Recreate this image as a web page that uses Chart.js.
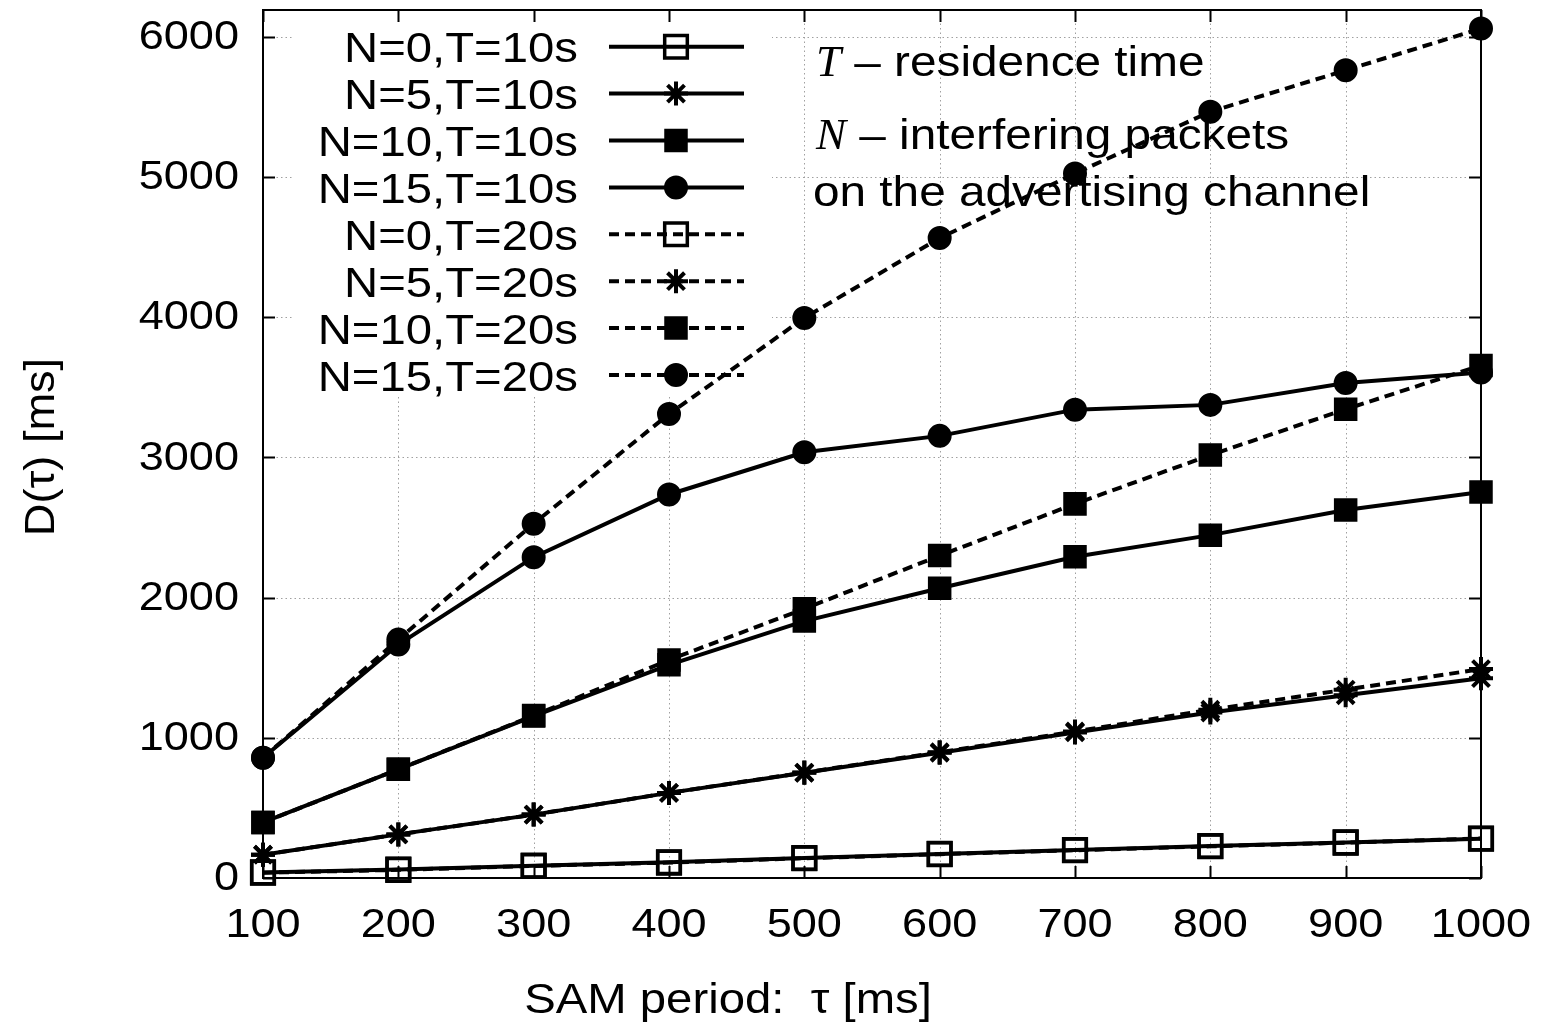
<!DOCTYPE html>
<html>
<head>
<meta charset="utf-8">
<script src="https://cdn.jsdelivr.net/npm/chart.js@4.4.1/dist/chart.umd.min.js"></script>
<style>
  html, body { margin: 0; padding: 0; background: #ffffff; }
  canvas { display: block; }
</style>
</head>
<body>
<canvas id="c" width="1553" height="1025"></canvas>
<script>
// ---------- data ----------
const tauValues = [100, 200, 300, 400, 500, 600, 700, 800, 900, 1000];
const xTickLabels = ['100', '200', '300', '400', '500', '600', '700', '800', '900', '1000'];
const yTickValues = [0, 1000, 2000, 3000, 4000, 5000, 6000];
const yTickLabels = ['0', '1000', '2000', '3000', '4000', '5000', '6000'];

const seriesLabels = ['N=0,T=10s', 'N=5,T=10s', 'N=10,T=10s', 'N=15,T=10s',
                      'N=0,T=20s', 'N=5,T=20s', 'N=10,T=20s', 'N=15,T=20s'];

const n0T10  = [40, 60, 88, 112, 143, 172, 200, 228, 254, 280];
const n5T10  = [166, 311, 452, 607, 750, 893, 1038, 1180, 1303, 1425];
const n10T10 = [396, 775, 1155, 1520, 1832, 2066, 2291, 2445, 2624, 2752];
const n15T10 = [857, 1665, 2288, 2735, 3036, 3153, 3340, 3374, 3530, 3605];
const n0T20  = [38, 58, 86, 110, 141, 170, 198, 226, 252, 282];
const n5T20  = [166, 311, 452, 607, 752, 897, 1045, 1200, 1343, 1490];
const n10T20 = [396, 775, 1158, 1555, 1920, 2299, 2668, 3016, 3343, 3655];
const n15T20 = [857, 1700, 2527, 3309, 3994, 4564, 5024, 5465, 5760, 6058];

const xTitle = 'SAM period:  \u03C4 [ms]';
const yTitle = 'D(\u03C4) [ms]';
const noteLines = [
  { italic: 'T', rest: ' \u2013 residence time' },
  { italic: 'N', rest: ' \u2013 interfering packets' },
  { italic: '',  rest: 'on the advertising channel' }
];

// ---------- styles ----------
const SANS = '"Liberation Sans", Arial, Helvetica, sans-serif';
const SERIF = '"Liberation Serif", "Times New Roman", serif';
const solid = [];
const dashed = [10, 6];
const LINE_W = 4;
const markerDefs = [
  { style: 'rect',   fill: 'rgba(0,0,0,0)', radius: 16,  bw: 3.5 },
  { style: 'star',   fill: '#000',          radius: 12,  bw: 4 },
  { style: 'rect',   fill: '#000',          radius: 14.5, bw: 3 },
  { style: 'circle', fill: '#000',          radius: 10.5, bw: 3 }
];
const seriesData = [n0T10, n5T10, n10T10, n15T10, n0T20, n5T20, n10T20, n15T20];

const datasets = seriesData.map((vals, i) => {
  const m = markerDefs[i % 4];
  return {
    label: seriesLabels[i],
    data: tauValues.map((t, k) => ({ x: t, y: vals[k] })),
    borderColor: '#000',
    borderWidth: LINE_W,
    borderDash: i < 4 ? solid : dashed,
    pointStyle: m.style,
    pointRadius: m.radius,
    pointHoverRadius: m.radius,
    pointBorderWidth: m.bw,
    pointBorderColor: '#000',
    pointBackgroundColor: m.fill,
    fill: false,
    tension: 0,
    clip: false
  };
});

function stretchText(ctx, text, x, y, font, align, sx) {
  ctx.save();
  ctx.font = font;
  ctx.translate(x, y);
  ctx.scale(sx, 1);
  ctx.textAlign = align;
  ctx.fillText(text, 0, 0);
  ctx.restore();
}

function drawMarker(ctx, def, x, y) {
  const r = def.radius;
  ctx.save();
  ctx.lineWidth = def.bw;
  ctx.strokeStyle = '#000';
  ctx.fillStyle = def.fill;
  ctx.setLineDash([]);
  ctx.beginPath();
  if (def.style === 'rect') {
    const s = r * Math.SQRT1_2;
    ctx.rect(x - s, y - s, 2 * s, 2 * s);
    ctx.fill();
    ctx.stroke();
  } else if (def.style === 'circle') {
    ctx.arc(x, y, r, 0, Math.PI * 2);
    ctx.fill();
    ctx.stroke();
  } else if (def.style === 'star') {
    const d = r * Math.SQRT1_2;
    ctx.moveTo(x - r, y); ctx.lineTo(x + r, y);
    ctx.moveTo(x, y - r); ctx.lineTo(x, y + r);
    ctx.moveTo(x - d, y - d); ctx.lineTo(x + d, y + d);
    ctx.moveTo(x - d, y + d); ctx.lineTo(x + d, y - d);
    ctx.stroke();
  }
  ctx.restore();
}

const framePlugin = {
  id: 'frame',
  beforeDatasetsDraw(chart) {
    const ctx = chart.ctx;
    const xs = chart.scales.x, ys = chart.scales.y;
    const a = chart.chartArea;
    // dotted grid
    ctx.save();
    ctx.strokeStyle = '#a0a0a0';
    ctx.lineWidth = 1;
    ctx.setLineDash([1.5, 3]);
    tauValues.forEach(v => {
      const px = Math.round(xs.getPixelForValue(v)) + 0.5;
      if (px <= a.left + 1 || px >= a.right - 1) return;
      ctx.beginPath(); ctx.moveTo(px, a.top); ctx.lineTo(px, a.bottom); ctx.stroke();
    });
    yTickValues.forEach(v => {
      const py = Math.round(ys.getPixelForValue(v)) + 0.5;
      if (py <= a.top + 1 || py >= a.bottom - 1) return;
      ctx.beginPath(); ctx.moveTo(a.left, py); ctx.lineTo(a.right, py); ctx.stroke();
    });
    ctx.restore();

    // legend box (opaque)
    ctx.save();
    ctx.fillStyle = '#fff';
    ctx.fillRect(292, 21, 480, 374);
    ctx.fillStyle = '#000';
    ctx.textBaseline = 'alphabetic';
    for (let i = 0; i < seriesLabels.length; i++) {
      const cy = 46.7 + i * 46.9;
      stretchText(ctx, seriesLabels[i], 578, cy + 15.5, '43px ' + SANS, 'right', 1.1);
      ctx.save();
      ctx.strokeStyle = '#000';
      ctx.lineWidth = LINE_W;
      ctx.setLineDash(i < 4 ? solid : dashed);
      ctx.beginPath(); ctx.moveTo(609, cy); ctx.lineTo(744, cy); ctx.stroke();
      ctx.restore();
      drawMarker(ctx, markerDefs[i % 4], 676, cy);
    }
    ctx.restore();

    // annotation text
    ctx.save();
    ctx.fillStyle = '#000';
    ctx.textBaseline = 'alphabetic';
    const baselines = [76, 149, 206];
    noteLines.forEach((ln, i) => {
      let x = i === 2 ? 813 : 816;
      if (ln.italic) {
        stretchText(ctx, ln.italic, x, baselines[i], 'italic 45px ' + SERIF, 'left', 1.0);
        ctx.font = 'italic 45px ' + SERIF;
        x += ctx.measureText(ln.italic).width;
      }
      stretchText(ctx, ln.rest, x, baselines[i], '43px ' + SANS, 'left', 1.11);
    });
    ctx.restore();
  },
  afterDatasetsDraw(chart) {
    const ctx = chart.ctx;
    const xs = chart.scales.x, ys = chart.scales.y;
    const a = chart.chartArea;
    ctx.save();
    ctx.strokeStyle = '#000';
    ctx.lineWidth = 2;
    ctx.setLineDash([]);
    // inward ticks
    const tl = 12;
    tauValues.forEach(v => {
      const px = Math.round(xs.getPixelForValue(v)) + 0.5;
      ctx.beginPath();
      ctx.moveTo(px, a.bottom); ctx.lineTo(px, a.bottom - tl);
      ctx.moveTo(px, a.top); ctx.lineTo(px, a.top + tl);
      ctx.stroke();
    });
    yTickValues.forEach(v => {
      const py = Math.round(ys.getPixelForValue(v)) + 0.5;
      ctx.beginPath();
      ctx.moveTo(a.left, py); ctx.lineTo(a.left + tl, py);
      ctx.moveTo(a.right, py); ctx.lineTo(a.right - tl, py);
      ctx.stroke();
    });
    // frame
    ctx.strokeRect(a.left, a.top, a.right - a.left, a.bottom - a.top);
    ctx.restore();

    // tick labels
    ctx.save();
    ctx.fillStyle = '#000';
    ctx.textBaseline = 'middle';
    yTickValues.forEach((v, i) => {
      stretchText(ctx, yTickLabels[i], 239, ys.getPixelForValue(v) + 1, '41px ' + SANS, 'right', 1.1);
    });
    tauValues.forEach((v, i) => {
      stretchText(ctx, xTickLabels[i], xs.getPixelForValue(v), 926, '41px ' + SANS, 'center', 1.1);
    });
    // axis titles
    stretchText(ctx, xTitle, 728, 1001, '43px ' + SANS, 'center', 1.1);
    ctx.save();
    ctx.translate(42, 447);
    ctx.rotate(-Math.PI / 2);
    stretchText(ctx, yTitle, 0, 0, '43px ' + SANS, 'center', 1.05);
    ctx.restore();
    ctx.restore();
  }
};

new Chart(document.getElementById('c'), {
  type: 'line',
  data: { datasets },
  options: {
    responsive: false,
    animation: false,
    devicePixelRatio: 1,
    layout: { autoPadding: false, padding: { left: 263, right: 72, top: 10, bottom: 147 } },
    plugins: { legend: { display: false }, tooltip: { enabled: false }, title: { display: false } },
    scales: {
      x: { type: 'linear', min: 100, max: 1000, display: false },
      y: { type: 'linear', min: 0, max: 6190, display: false }
    }
  },
  plugins: [framePlugin]
});
</script>
</body>
</html>
